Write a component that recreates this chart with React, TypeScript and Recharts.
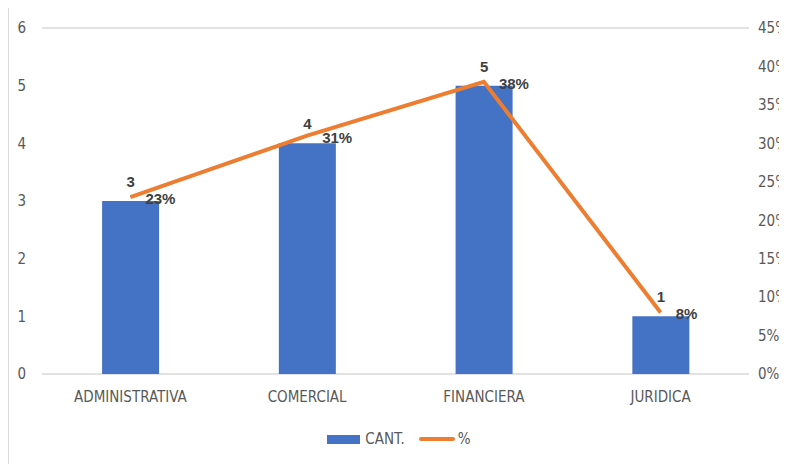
import { ComposedChart, CartesianGrid, XAxis, YAxis, Bar, Line, LabelList } from "recharts";

const areas = ["ADMINISTRATIVA", "COMERCIAL", "FINANCIERA", "JURIDICA"];
const cant = [3, 4, 5, 1];
const pct = [23, 31, 38, 8];
const leftTicks = [0, 1, 2, 3, 4, 5, 6];
const rightTicks = [0, 5, 10, 15, 20, 25, 30, 35, 40, 45];

const BLUE = "#4472C4";
const ORANGE = "#ED7D31";
const TICK_FONT = "'Liberation Sans Narrow', 'DejaVu Sans Condensed', 'Liberation Sans', sans-serif";
const LABEL_FONT = "'Liberation Sans', Arial, sans-serif";

const data = areas.map((name, i) => ({ name, cant: cant[i], pct: pct[i] }));

const tickStyle = { fill: "#595959", fontSize: 15, fontFamily: TICK_FONT };

const PctLabel = (props: any) => {
  const { x, y, value } = props;
  return (
    <text
      x={x + 15}
      y={y + 3}
      fill="#404040"
      fontSize={15}
      fontWeight="bold"
      fontFamily={LABEL_FONT}
      textAnchor="start"
      dominantBaseline="middle"
    >
      {value}%
    </text>
  );
};

// legend sits under the plot, centred, outside recharts' layout so it doesn't shrink the plot
const ChartLegend = () => (
  <div
    style={{
      position: "absolute",
      left: 0,
      top: 424,
      width: 780,
      display: "flex",
      justifyContent: "center",
      alignItems: "center",
      fontFamily: TICK_FONT,
      fontSize: 15,
      color: "#595959",
    }}
  >
    <span style={{ display: "inline-block", width: 33, height: 9, background: BLUE, marginRight: 5 }} />
    <span style={{ marginRight: 14 }}>CANT.</span>
    <span style={{ display: "inline-block", width: 36, height: 4, borderRadius: 2, background: ORANGE, marginRight: 3 }} />
    <span>%</span>
  </div>
);

export default function App() {
  return (
    <div
      style={{
        position: "relative",
        marginTop: -3,
        width: 790,
        height: 470,
        border: "1px solid #d9d9d9",
        boxSizing: "border-box",
      }}
    >
      <ComposedChart
        width={780}
        height={460}
        data={data}
        margin={{ top: 22, right: 0, bottom: 0, left: 0 }}
        barCategoryGap="34%"
      >
        <CartesianGrid vertical={false} stroke="#d9d9d9" strokeWidth={1.5} />
        <XAxis
          dataKey="name"
          axisLine={false}
          tickLine={false}
          tickSize={0}
          tickMargin={17}
          height={92}
          tick={tickStyle}
        />
        <YAxis
          yAxisId="left"
          domain={[0, 6]}
          ticks={leftTicks}
          axisLine={false}
          tickLine={false}
          tickSize={0}
          tickMargin={16}
          width={33}
          tick={tickStyle}
        />
        <YAxis
          yAxisId="right"
          orientation="right"
          domain={[0, 45]}
          ticks={rightTicks}
          tickFormatter={(v) => `${v}%`}
          axisLine={false}
          tickLine={false}
          tickSize={0}
          tickMargin={9}
          width={40}
          tick={tickStyle}
        />
        <Bar yAxisId="left" dataKey="cant" name="CANT." fill={BLUE} isAnimationActive={false}>
          <LabelList
            dataKey="cant"
            position="top"
            offset={14}
            fill="#404040"
            fontSize={15}
            fontWeight="bold"
            fontFamily={LABEL_FONT}
          />
        </Bar>
        <Line
          yAxisId="right"
          dataKey="pct"
          name="%"
          stroke={ORANGE}
          strokeWidth={4}
          dot={false}
          isAnimationActive={false}
        >
          <LabelList dataKey="pct" content={<PctLabel />} />
        </Line>
      </ComposedChart>
      <ChartLegend />
    </div>
  );
}
